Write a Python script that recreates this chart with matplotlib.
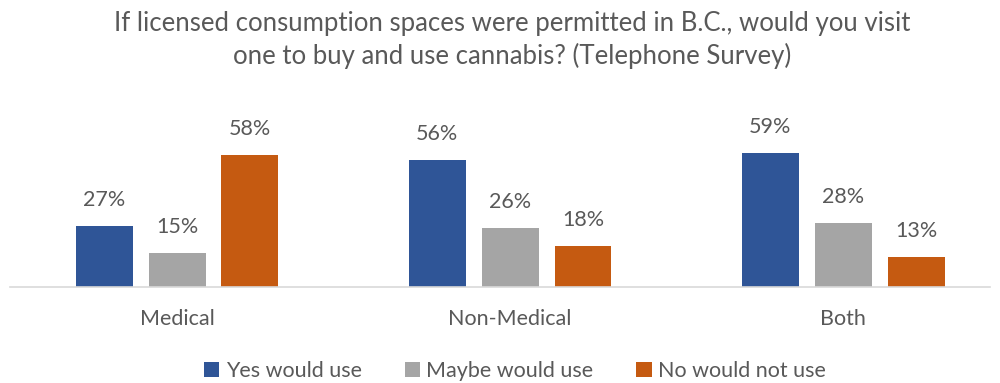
import numpy as np
import matplotlib.pyplot as plt

plt.rcParams['font.family'] = ['Lato', 'DejaVu Sans']

groups = ['Medical', 'Non-Medical', 'Both']
series = ['Yes would use', 'Maybe would use', 'No would not use']
yes = [27, 56, 59]
maybe = [15, 26, 28]
no = [58, 18, 13]
colors = ['#2F5597', '#A5A5A5', '#C55A11']
text_col = '#595959'

fig = plt.figure(figsize=(10, 3.83), dpi=100)
ax = fig.add_axes([0.01, 0.2507, 0.98, 0.415])

x = np.arange(len(groups))
width = 0.171
step = 0.219
for i, (vals, name) in enumerate(zip([yes, maybe, no], series)):
    pos = x + (i - 1) * step
    ax.bar(pos, vals, width, color=colors[i], label=name, zorder=2)
    for px, v in zip(pos, vals):
        ax.text(px, v + 11.5, f'{v}%', ha='center', va='center',
                fontsize=15.5, color=text_col)

ax.set_xlim(-0.5015, 2.441)
ax.set_ylim(0, 70)
ax.set_yticks([])
ax.set_xticks(x)
ax.set_xticklabels(groups, fontsize=15.5, color=text_col)
ax.tick_params(axis='x', length=0, pad=16)
for s in ['top', 'right', 'left']:
    ax.spines[s].set_visible(False)
ax.spines['bottom'].set_color('#D9D9D9')
ax.spines['bottom'].set_linewidth(1.2)

fig.text(0.512, 0.895, 'If licensed consumption spaces were permitted in B.C., would you visit\none to buy and use cannabis? (Telephone Survey)',
         ha='center', va='center', fontsize=18.5, color=text_col, linespacing=1.3)

fig.legend(loc='center', bbox_to_anchor=(0.515, 0.032), ncol=3, frameon=False,
           fontsize=15.5, labelcolor=text_col, handlelength=0.7, handleheight=0.7,
           handletextpad=0.3, columnspacing=2.0)

fig.savefig('out.png', dpi=100)
